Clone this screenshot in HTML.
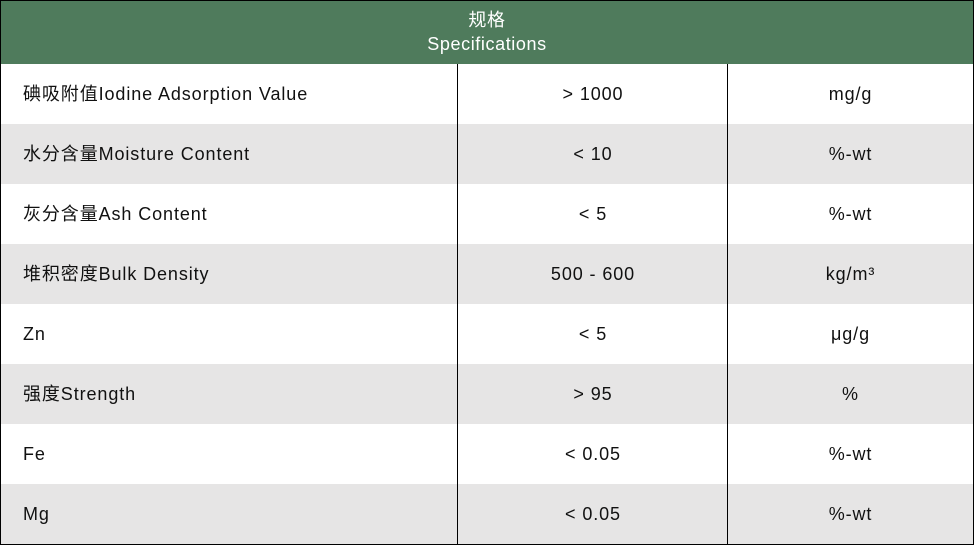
<!DOCTYPE html><html><head><style>
body{margin:0;width:974px;height:545px;overflow:hidden;background:#fff;font-family:"Liberation Sans","Noto Sans CJK SC",sans-serif;color:#111;}
.w{position:absolute;left:0;top:0;width:972px;height:543px;border:1px solid #000;}
.h{position:absolute;left:0;top:0;width:972px;height:63px;background:#4f7b5c;color:#fff;text-align:center;font-size:18px;line-height:24px;padding-top:7px;box-sizing:border-box;letter-spacing:0.6px;}
.r{position:absolute;left:0;width:972px;height:60px;font-size:18px;line-height:60px;letter-spacing:0.9px;}
.r div{position:absolute;top:0;height:60px;}
.a{left:22px}.b{left:457px;width:270px;text-align:center}.c{left:727px;width:245px;text-align:center}
.g{background:#e6e5e5}
.v{position:absolute;top:63px;width:1px;height:480px;background:#000}
</style></head><body><div class="w">
<div class="h">规格<br>Specifications</div>
<div class="r" style="top:63px"><div class="a">碘吸附值Iodine Adsorption Value</div><div class="b">&gt; 1000</div><div class="c">mg/g</div></div>
<div class="r g" style="top:123px"><div class="a">水分含量Moisture Content</div><div class="b">&lt; 10</div><div class="c">%-wt</div></div>
<div class="r" style="top:183px"><div class="a">灰分含量Ash Content</div><div class="b">&lt; 5</div><div class="c">%-wt</div></div>
<div class="r g" style="top:243px"><div class="a">堆积密度Bulk Density</div><div class="b">500 - 600</div><div class="c">kg/m³</div></div>
<div class="r" style="top:303px"><div class="a">Zn</div><div class="b">&lt; 5</div><div class="c">μg/g</div></div>
<div class="r g" style="top:363px"><div class="a">强度Strength</div><div class="b">&gt; 95</div><div class="c">%</div></div>
<div class="r" style="top:423px"><div class="a">Fe</div><div class="b">&lt; 0.05</div><div class="c">%-wt</div></div>
<div class="r g" style="top:483px"><div class="a">Mg</div><div class="b">&lt; 0.05</div><div class="c">%-wt</div></div>
<div class="v" style="left:456px"></div><div class="v" style="left:726px"></div>
</div></body></html>
